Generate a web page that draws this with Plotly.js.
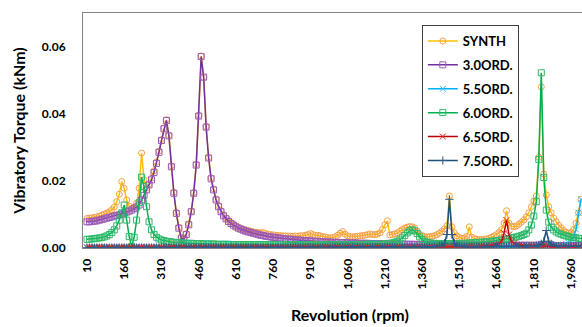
<!DOCTYPE html>
<html><head><meta charset="utf-8">
<script src="https://cdn.plot.ly/plotly-3.0.1.min.js"></script>
<style>html,body{margin:0;padding:0;background:#fff}#chart{width:582px;height:327px}</style>
</head><body><div id="chart"></div>
<script>
// Revolution (rpm) categories: 10, 20, ..., 2000
const rpm = Array.from({length: 200}, (_, i) => 10 + 10 * i);

const tickVals = [10,160,310,460,610,760,910,1060,1210,1360,1510,1660,1810,1960];
const tickText = ["10","160","310","460","610","760","910","1,060","1,210","1,360","1,510","1,660","1,810","1,960"];

const synth = [
0.0088,0.0089,0.0090,0.0091,0.0093,0.0095,0.0098,0.0101,0.0104,0.0108,
0.0114,0.0122,0.0138,0.0160,0.0198,0.0178,0.0143,0.0125,0.0118,0.0122,
0.0133,0.0178,0.0283,0.0203,0.0178,0.0190,0.0208,0.0230,0.0256,0.0289,
0.0323,0.0358,0.0382,0.0336,0.0245,0.0166,0.0106,0.0062,0.0032,0.0028,
0.0043,0.0072,0.0110,0.0165,0.0249,0.0395,0.0572,0.0508,0.0362,0.0270,
0.0209,0.0176,0.0146,0.0126,0.0111,0.0099,0.0090,0.0082,0.0076,0.0071,
0.0066,0.0062,0.0059,0.0056,0.0054,0.0052,0.0050,0.0048,0.0047,0.0046,
0.0045,0.0046,0.0043,0.0041,0.0040,0.0039,0.0038,0.0037,0.0037,0.0036,
0.0036,0.0036,0.0035,0.0035,0.0036,0.0035,0.0037,0.0036,0.0038,0.0040,
0.0043,0.0040,0.0037,0.0038,0.0036,0.0034,0.0033,0.0031,0.0030,0.0031,
0.0033,0.0038,0.0044,0.0049,0.0041,0.0036,0.0034,0.0033,0.0034,0.0035,
0.0036,0.0037,0.0038,0.0040,0.0042,0.0040,0.0040,0.0041,0.0045,0.0055,
0.0069,0.0081,0.0039,0.0040,0.0042,0.0045,0.0050,0.0055,0.0059,0.0062,
0.0064,0.0063,0.0060,0.0050,0.0041,0.0037,0.0034,0.0033,0.0034,0.0035,
0.0037,0.0040,0.0044,0.0050,0.0057,0.0066,0.0155,0.0063,0.0045,0.0036,
0.0031,0.0029,0.0030,0.0035,0.0063,0.0032,0.0028,0.0026,0.0025,0.0025,
0.0026,0.0027,0.0029,0.0032,0.0036,0.0040,0.0046,0.0055,0.0074,0.0111,
0.0074,0.0065,0.0063,0.0066,0.0071,0.0077,0.0084,0.0093,0.0105,0.0123,
0.0140,0.0155,0.0270,0.0480,0.0220,0.0158,0.0123,0.0105,0.0089,0.0078,
0.0068,0.0060,0.0052,0.0047,0.0044,0.0046,0.0055,0.0074,0.0105,0.0145];

const ord30 = [
0.0078,0.0078,0.0079,0.0080,0.0081,0.0083,0.0085,0.0087,0.0089,0.0091,
0.0093,0.0095,0.0097,0.0099,0.0101,0.0104,0.0107,0.0110,0.0113,0.0117,
0.0122,0.0128,0.0143,0.0157,0.0173,0.0188,0.0203,0.0225,0.0252,0.0285,
0.0320,0.0355,0.0380,0.0334,0.0242,0.0163,0.0103,0.0059,0.0029,0.0025,
0.0040,0.0069,0.0108,0.0163,0.0247,0.0393,0.0570,0.0509,0.0360,0.0268,
0.0206,0.0173,0.0143,0.0123,0.0108,0.0096,0.0087,0.0079,0.0073,0.0068,
0.0063,0.0059,0.0056,0.0053,0.0050,0.0048,0.0046,0.0044,0.0042,0.0040,
0.0038,0.0037,0.0035,0.0034,0.0033,0.0032,0.0031,0.0030,0.0029,0.0028,
0.0027,0.0026,0.0026,0.0025,0.0024,0.0024,0.0023,0.0022,0.0022,0.0021,
0.0021,0.0020,0.0020,0.0019,0.0019,0.0018,0.0018,0.0018,0.0017,0.0017,
0.0017,0.0016,0.0016,0.0016,0.0016,0.0015,0.0015,0.0015,0.0015,0.0014,
0.0014,0.0014,0.0014,0.0014,0.0013,0.0013,0.0013,0.0013,0.0013,0.0012,
0.0012,0.0012,0.0012,0.0012,0.0012,0.0011,0.0011,0.0011,0.0011,0.0011,
0.0011,0.0011,0.0011,0.0010,0.0010,0.0010,0.0010,0.0010,0.0010,0.0010,
0.0010,0.0010,0.0010,0.0009,0.0009,0.0009,0.0009,0.0009,0.0009,0.0009,
0.0009,0.0009,0.0009,0.0009,0.0009,0.0008,0.0008,0.0008,0.0008,0.0008,
0.0008,0.0008,0.0008,0.0008,0.0008,0.0008,0.0008,0.0008,0.0008,0.0008,
0.0008,0.0008,0.0008,0.0008,0.0008,0.0008,0.0008,0.0008,0.0008,0.0008,
0.0008,0.0008,0.0008,0.0009,0.0008,0.0008,0.0007,0.0007,0.0007,0.0007,
0.0007,0.0007,0.0007,0.0007,0.0007,0.0007,0.0007,0.0007,0.0007,0.0007];

const ord55 = [
0.0001,0.0001,0.0001,0.0001,0.0001,0.0001,0.0001,0.0001,0.0001,0.0001,
0.0001,0.0001,0.0001,0.0001,0.0001,0.0001,0.0001,0.0001,0.0001,0.0001,
0.0001,0.0001,0.0001,0.0001,0.0001,0.0001,0.0001,0.0001,0.0001,0.0001,
0.0001,0.0001,0.0001,0.0001,0.0001,0.0001,0.0001,0.0001,0.0001,0.0001,
0.0001,0.0001,0.0001,0.0001,0.0001,0.0001,0.0001,0.0001,0.0001,0.0001,
0.0001,0.0001,0.0001,0.0001,0.0001,0.0001,0.0001,0.0001,0.0001,0.0001,
0.0001,0.0001,0.0001,0.0001,0.0001,0.0001,0.0001,0.0001,0.0001,0.0001,
0.0001,0.0001,0.0001,0.0001,0.0001,0.0001,0.0001,0.0001,0.0001,0.0001,
0.0001,0.0001,0.0001,0.0001,0.0001,0.0001,0.0001,0.0001,0.0001,0.0001,
0.0001,0.0001,0.0001,0.0001,0.0001,0.0001,0.0001,0.0001,0.0001,0.0001,
0.0002,0.0002,0.0002,0.0002,0.0002,0.0002,0.0002,0.0002,0.0002,0.0002,
0.0002,0.0002,0.0002,0.0002,0.0002,0.0002,0.0002,0.0002,0.0002,0.0002,
0.0002,0.0002,0.0002,0.0002,0.0002,0.0002,0.0002,0.0002,0.0002,0.0002,
0.0002,0.0002,0.0002,0.0002,0.0002,0.0002,0.0002,0.0002,0.0002,0.0002,
0.0002,0.0002,0.0002,0.0003,0.0003,0.0003,0.0003,0.0003,0.0003,0.0003,
0.0003,0.0003,0.0003,0.0003,0.0003,0.0003,0.0003,0.0003,0.0003,0.0003,
0.0003,0.0003,0.0003,0.0003,0.0003,0.0004,0.0004,0.0004,0.0004,0.0004,
0.0004,0.0004,0.0004,0.0004,0.0004,0.0004,0.0005,0.0005,0.0005,0.0005,
0.0005,0.0005,0.0005,0.0006,0.0006,0.0006,0.0006,0.0006,0.0007,0.0007,
0.0008,0.0009,0.0010,0.0012,0.0015,0.0022,0.0034,0.0055,0.0105,0.0145];

const ord60 = [
0.0026,0.0026,0.0027,0.0028,0.0029,0.0030,0.0031,0.0033,0.0036,0.0040,
0.0046,0.0054,0.0066,0.0083,0.0105,0.0128,0.0083,0.0034,0.0004,0.0032,
0.0083,0.0135,0.0211,0.0183,0.0123,0.0078,0.0054,0.0040,0.0032,0.0027,
0.0024,0.0022,0.0020,0.0019,0.0018,0.0017,0.0016,0.0016,0.0015,0.0015,
0.0014,0.0014,0.0014,0.0013,0.0013,0.0013,0.0013,0.0012,0.0012,0.0012,
0.0012,0.0012,0.0011,0.0011,0.0011,0.0011,0.0011,0.0011,0.0010,0.0010,
0.0010,0.0010,0.0010,0.0010,0.0010,0.0010,0.0010,0.0010,0.0010,0.0010,
0.0010,0.0010,0.0010,0.0010,0.0010,0.0010,0.0010,0.0010,0.0010,0.0010,
0.0010,0.0010,0.0010,0.0010,0.0010,0.0010,0.0010,0.0010,0.0010,0.0010,
0.0010,0.0010,0.0010,0.0010,0.0010,0.0010,0.0010,0.0010,0.0010,0.0010,
0.0010,0.0010,0.0010,0.0010,0.0010,0.0010,0.0010,0.0010,0.0010,0.0010,
0.0010,0.0010,0.0011,0.0011,0.0011,0.0011,0.0011,0.0011,0.0011,0.0011,
0.0012,0.0013,0.0014,0.0015,0.0017,0.0020,0.0024,0.0030,0.0037,0.0045,
0.0051,0.0054,0.0051,0.0043,0.0033,0.0025,0.0020,0.0017,0.0015,0.0014,
0.0014,0.0013,0.0013,0.0013,0.0013,0.0013,0.0013,0.0013,0.0013,0.0013,
0.0013,0.0014,0.0014,0.0014,0.0015,0.0015,0.0016,0.0016,0.0017,0.0017,
0.0018,0.0018,0.0019,0.0020,0.0021,0.0022,0.0023,0.0024,0.0025,0.0027,
0.0028,0.0030,0.0031,0.0033,0.0035,0.0037,0.0040,0.0044,0.0054,0.0068,
0.0095,0.0138,0.0264,0.0522,0.0210,0.0113,0.0077,0.0062,0.0054,0.0048,
0.0044,0.0041,0.0038,0.0036,0.0034,0.0032,0.0031,0.0030,0.0029,0.0028];

const ord65 = [
0.0002,0.0002,0.0002,0.0002,0.0002,0.0002,0.0002,0.0002,0.0002,0.0002,
0.0002,0.0002,0.0002,0.0002,0.0002,0.0002,0.0002,0.0002,0.0002,0.0002,
0.0002,0.0002,0.0002,0.0002,0.0002,0.0002,0.0002,0.0002,0.0002,0.0002,
0.0002,0.0002,0.0002,0.0002,0.0002,0.0002,0.0002,0.0002,0.0002,0.0002,
0.0002,0.0002,0.0002,0.0002,0.0002,0.0002,0.0002,0.0002,0.0002,0.0002,
0.0002,0.0002,0.0002,0.0002,0.0002,0.0002,0.0002,0.0002,0.0002,0.0002,
0.0002,0.0002,0.0002,0.0002,0.0002,0.0002,0.0002,0.0002,0.0002,0.0002,
0.0002,0.0002,0.0002,0.0002,0.0002,0.0002,0.0002,0.0002,0.0002,0.0002,
0.0002,0.0002,0.0002,0.0002,0.0002,0.0002,0.0002,0.0002,0.0002,0.0002,
0.0002,0.0002,0.0002,0.0002,0.0002,0.0002,0.0002,0.0002,0.0002,0.0002,
0.0003,0.0003,0.0003,0.0003,0.0003,0.0003,0.0003,0.0003,0.0003,0.0003,
0.0003,0.0003,0.0003,0.0003,0.0003,0.0003,0.0003,0.0003,0.0003,0.0003,
0.0003,0.0003,0.0003,0.0003,0.0003,0.0003,0.0003,0.0003,0.0003,0.0003,
0.0003,0.0003,0.0003,0.0003,0.0003,0.0003,0.0003,0.0003,0.0003,0.0003,
0.0003,0.0003,0.0003,0.0003,0.0003,0.0003,0.0003,0.0003,0.0003,0.0003,
0.0003,0.0003,0.0003,0.0004,0.0004,0.0004,0.0004,0.0004,0.0004,0.0005,
0.0005,0.0006,0.0006,0.0007,0.0008,0.0010,0.0013,0.0020,0.0044,0.0083,
0.0040,0.0020,0.0013,0.0010,0.0008,0.0007,0.0006,0.0006,0.0005,0.0005,
0.0005,0.0005,0.0006,0.0008,0.0006,0.0005,0.0005,0.0004,0.0004,0.0004,
0.0004,0.0004,0.0004,0.0004,0.0004,0.0004,0.0004,0.0004,0.0004,0.0004];

const ord75 = [
0.0001,0.0001,0.0001,0.0001,0.0001,0.0001,0.0001,0.0001,0.0001,0.0001,
0.0001,0.0001,0.0001,0.0001,0.0001,0.0001,0.0001,0.0001,0.0001,0.0001,
0.0001,0.0001,0.0001,0.0001,0.0001,0.0001,0.0001,0.0001,0.0001,0.0001,
0.0001,0.0001,0.0001,0.0001,0.0001,0.0001,0.0001,0.0001,0.0001,0.0001,
0.0001,0.0001,0.0001,0.0001,0.0001,0.0001,0.0001,0.0001,0.0001,0.0001,
0.0001,0.0001,0.0001,0.0001,0.0001,0.0001,0.0001,0.0001,0.0001,0.0001,
0.0001,0.0001,0.0001,0.0001,0.0001,0.0001,0.0001,0.0001,0.0001,0.0001,
0.0001,0.0001,0.0001,0.0001,0.0001,0.0001,0.0001,0.0001,0.0001,0.0001,
0.0001,0.0001,0.0001,0.0001,0.0001,0.0001,0.0001,0.0001,0.0001,0.0001,
0.0001,0.0001,0.0001,0.0001,0.0001,0.0001,0.0001,0.0001,0.0001,0.0001,
0.0002,0.0002,0.0002,0.0002,0.0002,0.0002,0.0002,0.0002,0.0002,0.0002,
0.0002,0.0002,0.0002,0.0002,0.0002,0.0002,0.0002,0.0002,0.0002,0.0002,
0.0002,0.0002,0.0002,0.0002,0.0002,0.0002,0.0002,0.0002,0.0002,0.0002,
0.0002,0.0002,0.0002,0.0002,0.0002,0.0002,0.0003,0.0003,0.0003,0.0003,
0.0004,0.0005,0.0006,0.0008,0.0014,0.0040,0.0145,0.0040,0.0014,0.0008,
0.0006,0.0005,0.0004,0.0004,0.0004,0.0004,0.0004,0.0004,0.0004,0.0004,
0.0004,0.0004,0.0004,0.0004,0.0004,0.0004,0.0004,0.0004,0.0004,0.0004,
0.0004,0.0004,0.0004,0.0004,0.0004,0.0004,0.0004,0.0004,0.0004,0.0005,
0.0005,0.0006,0.0008,0.0012,0.0020,0.0052,0.0020,0.0012,0.0008,0.0006,
0.0005,0.0005,0.0005,0.0005,0.0005,0.0005,0.0005,0.0005,0.0005,0.0005];

const seriesNames = ["SYNTH","3.0ORD.","5.5ORD.","6.0ORD.","6.5ORD.","7.5ORD."];
const seriesData = [synth, ord30, ord55, ord60, ord65, ord75];
const lineColors = ["#FFC000","#7030A0","#00B0F0","#00B050","#C00000","#1F4E79"];
const markColors = ["#F4A04A","#9B59B6","#33BFEF","#2EB86A","#D42020","#2E5C8A"];
const symbols = ["circle-open","square-open","x-thin-open","square-open","x-thin-open","cross-thin-open"];

const traces = seriesNames.map((n, i) => ({
  type: "scatter", mode: "lines+markers", name: n, x: rpm, y: seriesData[i],
  legendgroup: "g" + i,
  line: {color: lineColors[i], width: 1.5},
  marker: {symbol: symbols[i], size: 6, color: markColors[i], line: {color: markColors[i], width: 1}},
  cliponaxis: true
}));

const F = "Lato, 'Open Sans', sans-serif";
const layout = {
  width: 582, height: 327,
  margin: {l: 83, r: 0, t: 13, b: 79},
  paper_bgcolor: "#fff", plot_bgcolor: "#fff",
  showlegend: true,
  legend: {
    x: 0.679, y: 0.949, xanchor: "left", yanchor: "top",
    bgcolor: "#fff", bordercolor: "#404040", borderwidth: 1,
    font: {family: F, size: 13, color: "#000", weight: "bold"},
    tracegroupgap: 4, itemwidth: 30
  },
  xaxis: {
    range: [-6, 2004], tickmode: "array", tickvals: tickVals, ticktext: tickText,
    tickangle: -90, ticks: "", showgrid: false, zeroline: false,
    showline: true, linecolor: "#868686", linewidth: 1, mirror: true,
    tickfont: {family: F, size: 12, color: "#000", weight: "bold"},
    ticklabelstandoff: 5
  },
  yaxis: {
    range: [0, 0.07], tickvals: [0, 0.02, 0.04, 0.06], tickformat: ".2f",
    ticks: "", showgrid: false, zeroline: false,
    showline: true, linecolor: "#868686", linewidth: 1, mirror: true,
    tickfont: {family: F, size: 12, color: "#000", weight: "bold"},
    ticklabelstandoff: 14,
    title: {text: "Vibratory Torque (kNm)", font: {family: F, size: 16, color: "#000", weight: "bold"}, standoff: 12}
  },
  annotations: [{
    text: "Revolution (rpm)", xref: "paper", yref: "paper", x: 0.535, y: -0.285,
    xanchor: "center", yanchor: "middle", showarrow: false,
    font: {family: F, size: 16, color: "#000", weight: "bold"}
  }]
};

Plotly.newPlot("chart", traces, layout, {displayModeBar: false, staticPlot: true});
</script></body></html>
